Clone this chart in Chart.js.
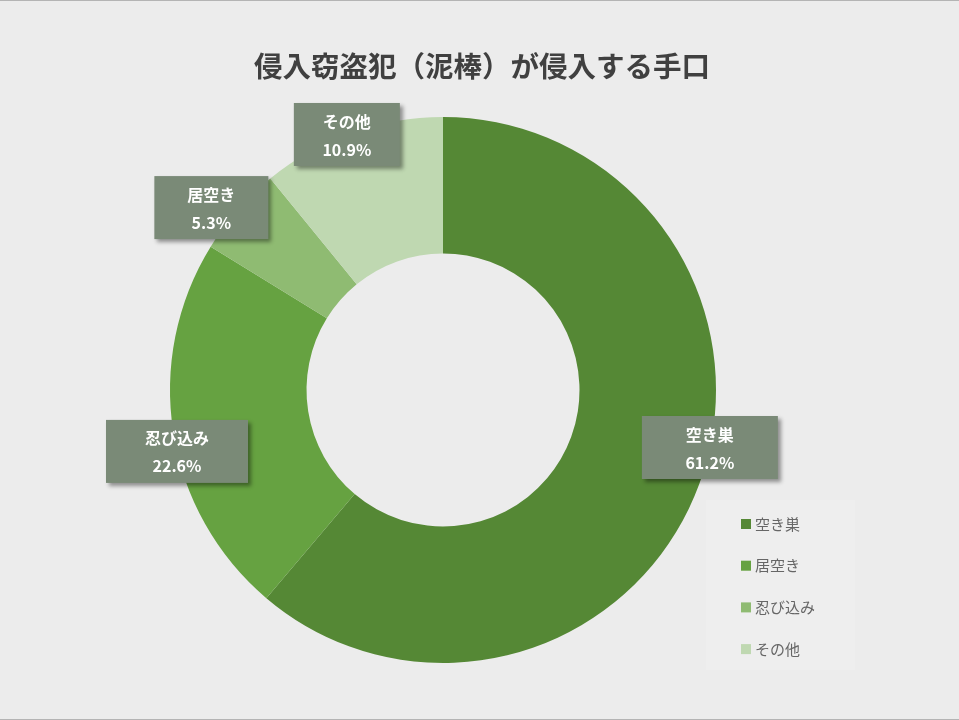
<!DOCTYPE html>
<html lang="ja">
<head>
<meta charset="utf-8">
<title>侵入窃盗犯（泥棒）が侵入する手口</title>
<script src="https://cdn.jsdelivr.net/npm/chart.js@4/dist/chart.umd.min.js"></script>
<style>
    html, body { margin: 0; padding: 0; background: #ececec; }
    #wrap { width: 959px; height: 720px; position: relative; }
    canvas { display: block; }
</style>
</head>
<body>
<div id="wrap"><canvas id="chart" width="959" height="720"></canvas></div>
<script>
// Data (slice order as drawn, clockwise from 12 o'clock)
const categories = ["空き巣", "忍び込み", "居空き", "その他"];
const shares = [61.2, 22.6, 5.3, 10.9];
const sliceColors = ["#558835", "#66a241", "#8fbb72", "#bfd8b1"];

// Legend entries as shown in the reference
const legendLabels = ["空き巣", "居空き", "忍び込み", "その他"];
const legendColors = ["#558835", "#66a241", "#8fbb72", "#bfd8b1"];

const titleText = "侵入窃盗犯（泥棒）が侵入する手口";
const FONT = "'Noto Sans CJK JP', 'Noto Sans', sans-serif";

// Callout tweaks (angle shift in degrees, radius factor, box width)
const calloutStyle = [
    { shift: -8, rf: 1.0, w: 136 },
    { shift: -4, rf: 1.0, w: 142 },
    { shift: -3, rf: 1.08, w: 114 },
    { shift: -1, rf: 1.0, w: 106 },
];

//Frame, title, callouts and legend
const decorations = {
    id: "decorations",
    beforeDraw(chart) {
        const ctx = chart.ctx;
        ctx.save();
        ctx.fillStyle = "#ececec";
        ctx.fillRect(0, 0, chart.width, chart.height);
        // legend panel
        ctx.fillStyle = "#eeeeee";
        ctx.fillRect(706, 500, 149, 170);
        ctx.restore();
    },
    afterDraw(chart) {
        const ctx = chart.ctx;
        ctx.save();

        // top / bottom frame line
        ctx.fillStyle = "#b4b4b4";
        ctx.fillRect(0, 0, chart.width, 1);
        ctx.fillRect(0, chart.height - 1, chart.width, 1);

        // title
        ctx.fillStyle = "#404040";
        ctx.font = "bold 28.5px " + FONT;
        ctx.textAlign = "center";
        ctx.textBaseline = "middle";
        ctx.fillText(titleText, 482, 66);

        // callout boxes
        const meta = chart.getDatasetMeta(0);
        meta.data.forEach((arc, i) => {
            const p = arc.getProps(["x", "y", "startAngle", "endAngle", "outerRadius"], true);
            const st = calloutStyle[i];
            const mid = (p.startAngle + p.endAngle) / 2 + st.shift * Math.PI / 180;
            const r = p.outerRadius * st.rf;
            const cx = p.x + r * Math.cos(mid);
            const cy = p.y + r * Math.sin(mid);
            const w = st.w, h = 63;

            ctx.save();
            ctx.shadowColor = "rgba(0,0,0,0.4)";
            ctx.shadowBlur = 4;
            ctx.shadowOffsetX = 3;
            ctx.shadowOffsetY = 3;
            ctx.fillStyle = "#7a8a77";
            ctx.fillRect(cx - w / 2, cy - h / 2, w, h);
            ctx.restore();

            ctx.fillStyle = "#ffffff";
            ctx.font = "bold 16px " + FONT;
            ctx.textAlign = "center";
            ctx.textBaseline = "middle";
            ctx.fillText(categories[i], cx, cy - 13);
            ctx.fillText(shares[i].toFixed(1) + "%", cx, cy + 15);
        });

        // legend
        ctx.font = "15px " + FONT;
        ctx.textAlign = "left";
        ctx.textBaseline = "middle";
        legendLabels.forEach((label, i) => {
            const y = 524 + i * 41.7;
            ctx.fillStyle = legendColors[i];
            ctx.fillRect(741, y - 5, 10, 10);
            ctx.fillStyle = "#666666";
            ctx.fillText(label, 755, y);
        });

        ctx.restore();
    },
};

const ctx = document.getElementById("chart").getContext("2d");

new Chart(ctx, {
    type: "doughnut",
    data: {
        labels: categories,
        datasets: [
            {
                data: shares,
                backgroundColor: sliceColors,
                borderWidth: 0,
            },
        ],
    },
    options: {
        responsive: false,
        animation: false,
        cutout: "50%",
        layout: {
            padding: { top: 117, bottom: 57, left: 170, right: 243 },
        },
        plugins: {
            legend: { display: false },
            title: { display: false },
            tooltip: { enabled: false },
        },
    },
    plugins: [decorations],
});
</script>
</body>
</html>
